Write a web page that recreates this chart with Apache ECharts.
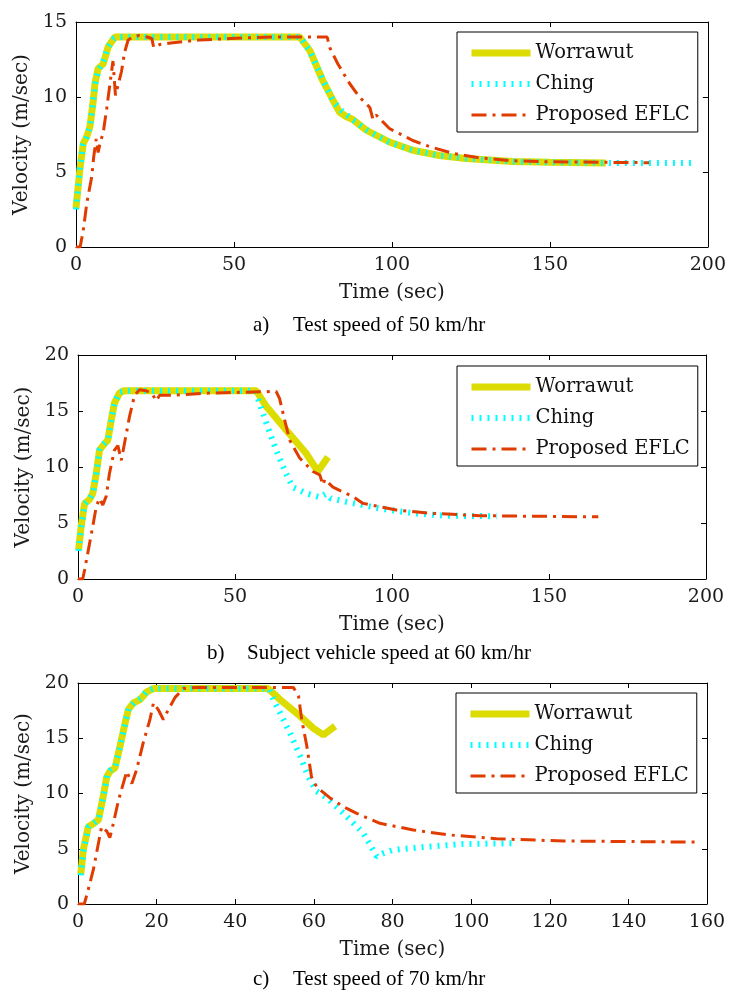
<!DOCTYPE html>
<html><head><meta charset="utf-8">
<script src="https://cdn.jsdelivr.net/npm/echarts@6/dist/echarts.min.js"></script>
<style>html,body{margin:0;padding:0;background:#fff}#c{width:729px;height:992px}</style>
</head><body><div id="c"></div><script>
// ---------- data (time sec, velocity m/sec) ----------
const seriesNames = ['Worrawut', 'Ching', 'Proposed EFLC'];
const xTicksMax = [200, 200, 160];
const xTickStep = [50, 50, 20];
const yTicksMax = [15, 20, 20];
const xAxisTitle = 'Time (sec)';
const yAxisTitle = 'Velocity (m/sec)';
const captionLabels = ['a)', 'b)', 'c)'];
const captionTexts = ['Test speed of 50 km/hr', 'Subject vehicle speed at 60 km/hr', 'Test speed of 70 km/hr'];

// (a) 50 km/hr
const a_worrawut = [[0,2.6],[1.3,5.3],[2.3,6.9],[3.4,7.35],[4.4,8.0],[5.5,9.8],[6.0,10.9],[7.0,11.9],[8.6,12.2],[10.2,13.35],[12.3,14.0],[70.8,14.0],[74,13.1],[78.1,11.1],[81.3,9.8],[83.4,9.0],[85.5,8.7],[87.6,8.5],[91.8,7.8],[99.2,7.0],[106.6,6.45],[115,6.1],[123.4,5.9],[138.2,5.7],[150,5.65],[167.7,5.6]];
const a_ching = [[0,2.5],[1.2,5.2],[2.2,6.8],[3.3,7.3],[4.5,8.1],[5.4,9.7],[6.1,10.9],[7.1,11.8],[8.5,12.3],[10.1,13.3],[12.0,13.9],[13.5,14.0],[71.0,14.0],[74.2,13.0],[78.0,11.2],[81.5,9.7],[84.0,9.1],[87.5,8.5],[92.0,7.8],[99.0,7.0],[106.5,6.45],[115,6.1],[124,5.9],[138,5.7],[150,5.65],[168,5.6],[195.6,5.6]];
const a_eflc = [[0,0],[1.3,0],[2.3,1.1],[3.4,2.9],[5.0,4.7],[5.6,6.0],[6.4,7.2],[7.0,6.3],[7.7,7.0],[8.6,7.6],[9.7,9.2],[10.7,10.8],[11.7,12.4],[12.5,10.1],[14.4,11.7],[15.4,13.0],[16.5,13.8],[18,14.0],[20,14.1],[22.5,14.0],[24.0,13.9],[24.6,13.3],[26.5,13.5],[30,13.6],[39,13.8],[49,13.9],[62,14.0],[79.5,14.0],[80.3,13.3],[82.9,12.2],[86.6,10.9],[89.7,10.0],[93.0,9.3],[94.0,8.5],[95.0,8.8],[99.2,7.9],[106.6,7.1],[111.8,6.7],[119.2,6.25],[127.6,5.95],[138.2,5.75],[150,5.68],[165,5.65],[181.4,5.62]];

// (b) 60 km/hr
const b_worrawut = [[0.2,2.6],[1.0,4.7],[2.1,6.75],[3.7,7.1],[4.7,7.65],[5.8,9.4],[6.85,11.5],[7.9,11.9],[9.5,12.4],[10.6,14.2],[11.6,15.7],[13.2,16.6],[14.5,16.8],[56.8,16.8],[60,15.4],[66.3,13.3],[72.7,11.2],[76.4,9.6],[79.6,10.9]];
const b_ching = [[0.2,2.5],[1.1,4.8],[2.2,6.7],[3.8,7.2],[4.8,7.7],[5.9,9.5],[6.9,11.6],[8.0,12.0],[9.6,12.5],[10.7,14.3],[11.7,15.8],[13.3,16.7],[15,16.8],[56.5,16.8],[57.8,15.7],[60,13.9],[63.1,11.5],[66.3,9.4],[68.4,8.2],[72.7,7.65],[77,7.3],[79,7.6],[80.5,7.2],[85.4,6.9],[96,6.3],[106.7,5.87],[117.3,5.65],[133.3,5.6]];
const b_eflc = [[0,0],[1.5,0],[2.1,0.8],[3.1,2.3],[4.7,4.7],[5.8,6.45],[6.85,7.2],[7.9,6.6],[9.0,7.4],[10.0,9.4],[11.6,11.5],[12.7,11.9],[13.8,10.6],[14.8,12.1],[16.4,14.5],[18,16.4],[19.6,16.9],[21.7,16.8],[23.5,16.6],[24.9,15.9],[26,16.4],[29.1,16.4],[41.9,16.6],[63.1,16.75],[64.2,16.1],[65.8,14.2],[67.4,12.4],[70.6,10.8],[74.8,9.6],[77,9.3],[78,8.4],[78.6,8.9],[81.2,8.2],[87.6,7.35],[90.8,6.75],[101.4,6.16],[112,5.87],[128,5.65],[165.7,5.55]];

// (c) 70 km/hr
const c_worrawut = [[0.7,2.65],[1.35,4.9],[2.6,7.0],[3.9,7.27],[5.2,7.6],[6.4,9.7],[7.3,11.5],[8.1,12.0],[9.4,12.3],[10.7,14.3],[12,16.4],[12.8,17.6],[14.1,18.2],[15.8,18.5],[17.5,19.2],[19.2,19.5],[48.4,19.5],[51.4,18.5],[56.5,17.0],[59.9,15.9],[62.4,15.3],[65.4,16.1]];
const c_ching = [[0.7,2.6],[1.4,4.8],[2.7,7.0],[4.0,7.3],[5.3,7.7],[6.5,9.8],[7.4,11.6],[8.2,12.1],[9.5,12.4],[10.8,14.4],[12.1,16.5],[12.9,17.7],[14.2,18.2],[15.9,18.6],[17.6,19.3],[19.3,19.5],[48.6,19.5],[49.7,18.5],[51.4,17.3],[53.9,15.5],[56.5,13.4],[58.6,11.5],[60.7,10.2],[63.3,9.6],[66.7,8.5],[70.1,7.3],[72.6,6.4],[76,4.3],[77.7,4.6],[80.2,4.9],[89.5,5.2],[98,5.43],[110.7,5.5]];
const c_eflc = [[0,0],[1.6,0],[2.6,1.3],[3.9,3.1],[5.2,5.5],[6.0,7.0],[7.3,6.6],[8.1,6.0],[9.0,7.3],[10.3,9.4],[12.4,12.0],[13.7,10.9],[14.9,12.15],[16.6,14.6],[18.3,16.7],[19.2,18.2],[20.4,17.6],[21.7,16.7],[23,17.6],[24.7,18.7],[26.8,19.5],[30,19.6],[54.8,19.6],[56.1,18.8],[56.9,16.7],[58.2,14.3],[59.4,11.5],[60.7,10.6],[64.1,9.6],[67.5,8.8],[70.9,8.2],[76.8,7.3],[85.3,6.7],[93.8,6.27],[106.5,5.9],[123.5,5.7],[157.4,5.6]];

const panels = [[a_worrawut, a_ching, a_eflc],[b_worrawut, b_ching, b_eflc],[c_worrawut, c_ching, c_eflc]];

// ---------- styles / layout ----------
const FONT = 'DejaVu Serif';
const CAPFONT = 'Liberation Serif';
const styles = [
  {color:'#dcdc00', width:7, type:'solid'},
  {color:'#00ffff', width:6, type:[2,6]},
  {color:'#e03c00', width:3, type:[15,6,3,6]}
];
const gridLayout = [
  {left:76, right:20, top:22, height:225},
  {left:78, right:23, top:355, height:224},
  {left:78, right:22, top:683, height:221}
];
const legendPos = [{left:457, top:32},{left:457, top:366},{left:456, top:693}];
const captionY = [326, 654, 980];
const captionX = [[253,293],[207,247],[253,293]];

const grid=[], xAxis=[], yAxis=[], series=[], legend=[], graphic=[];
const axisCommon = {
  axisLine:{show:true, onZero:false, lineStyle:{color:'#000', width:1}},
  axisTick:{show:true, inside:true, length:5, lineStyle:{color:'#000'}},
  splitLine:{show:false}
};
for (let i=0;i<3;i++){
  grid.push(Object.assign({containLabel:false, show:false}, gridLayout[i]));
  xAxis.push(Object.assign({}, axisCommon, {
    type:'value', gridIndex:i, position:'bottom', min:0, max:xTicksMax[i], interval:xTickStep[i],
    name:xAxisTitle, nameLocation:'middle', nameGap:36,
    nameTextStyle:{fontFamily:FONT, fontSize:20, color:'#1a1a1a'},
    axisLabel:{margin:9, fontFamily:FONT, fontSize:19, color:'#1a1a1a'}
  }));
  xAxis.push(Object.assign({}, axisCommon, {
    type:'value', gridIndex:i, position:'top', min:0, max:xTicksMax[i], interval:xTickStep[i],
    axisLabel:{show:false}
  }));
  yAxis.push(Object.assign({}, axisCommon, {
    type:'value', gridIndex:i, position:'left', min:0, max:yTicksMax[i], interval:5,
    name:yAxisTitle, nameLocation:'middle', nameGap:39,
    nameTextStyle:{fontFamily:FONT, fontSize:20, color:'#1a1a1a'},
    axisLabel:{margin:9, fontFamily:FONT, fontSize:19, color:'#1a1a1a'}
  }));
  yAxis.push(Object.assign({}, axisCommon, {
    type:'value', gridIndex:i, position:'right', min:0, max:yTicksMax[i], interval:5,
    axisLabel:{show:false}
  }));
  for (let s=0;s<3;s++){
    series.push({
      type:'line', name:seriesNames[s], xAxisIndex:2*i, yAxisIndex:2*i,
      data:panels[i][s], showSymbol:false, symbol:'none', smooth:false,
      lineStyle:{color:styles[s].color, width:styles[s].width, type:styles[s].type},
      itemStyle:{color:styles[s].color}, z:2+s, silent:true
    });
  }
  legend.push({
    orient:'vertical', left:legendPos[i].left, top:legendPos[i].top,
    padding:[11,8,7,11], itemGap:11, itemWidth:59, itemHeight:14,
    borderColor:'#000', borderWidth:1, backgroundColor:'#fff',
    textStyle:{fontFamily:FONT, fontSize:19.5, color:'#111', lineHeight:20},
    selectedMode:false,
    data: seriesNames.map((n,s)=>({name:n,
      itemStyle:{opacity:0, color:'rgba(0,0,0,0)', borderWidth:0},
      lineStyle:{color:styles[s].color, width:styles[s].width, type:styles[s].type, opacity:1}}))
  });
  graphic.push({type:'text', left:captionX[i][0], top:captionY[i]-11, z:100,
    style:{text:captionLabels[i], font:'21px "'+CAPFONT+'"', fill:'#000'}});
  graphic.push({type:'text', left:captionX[i][1], top:captionY[i]-11, z:100,
    style:{text:captionTexts[i], font:'21px "'+CAPFONT+'"', fill:'#000'}});
}
// white caption background that clips the bottom of panel (b)'s x-axis title
graphic.unshift({type:'rect', left:300, top:634, z:99, shape:{width:200, height:12}, style:{fill:'#fff'}});

const chart = echarts.init(document.getElementById('c'), null, {renderer:'canvas'});
chart.setOption({animation:false, backgroundColor:'#fff', grid, xAxis, yAxis, series, legend, graphic});
</script></body></html>
